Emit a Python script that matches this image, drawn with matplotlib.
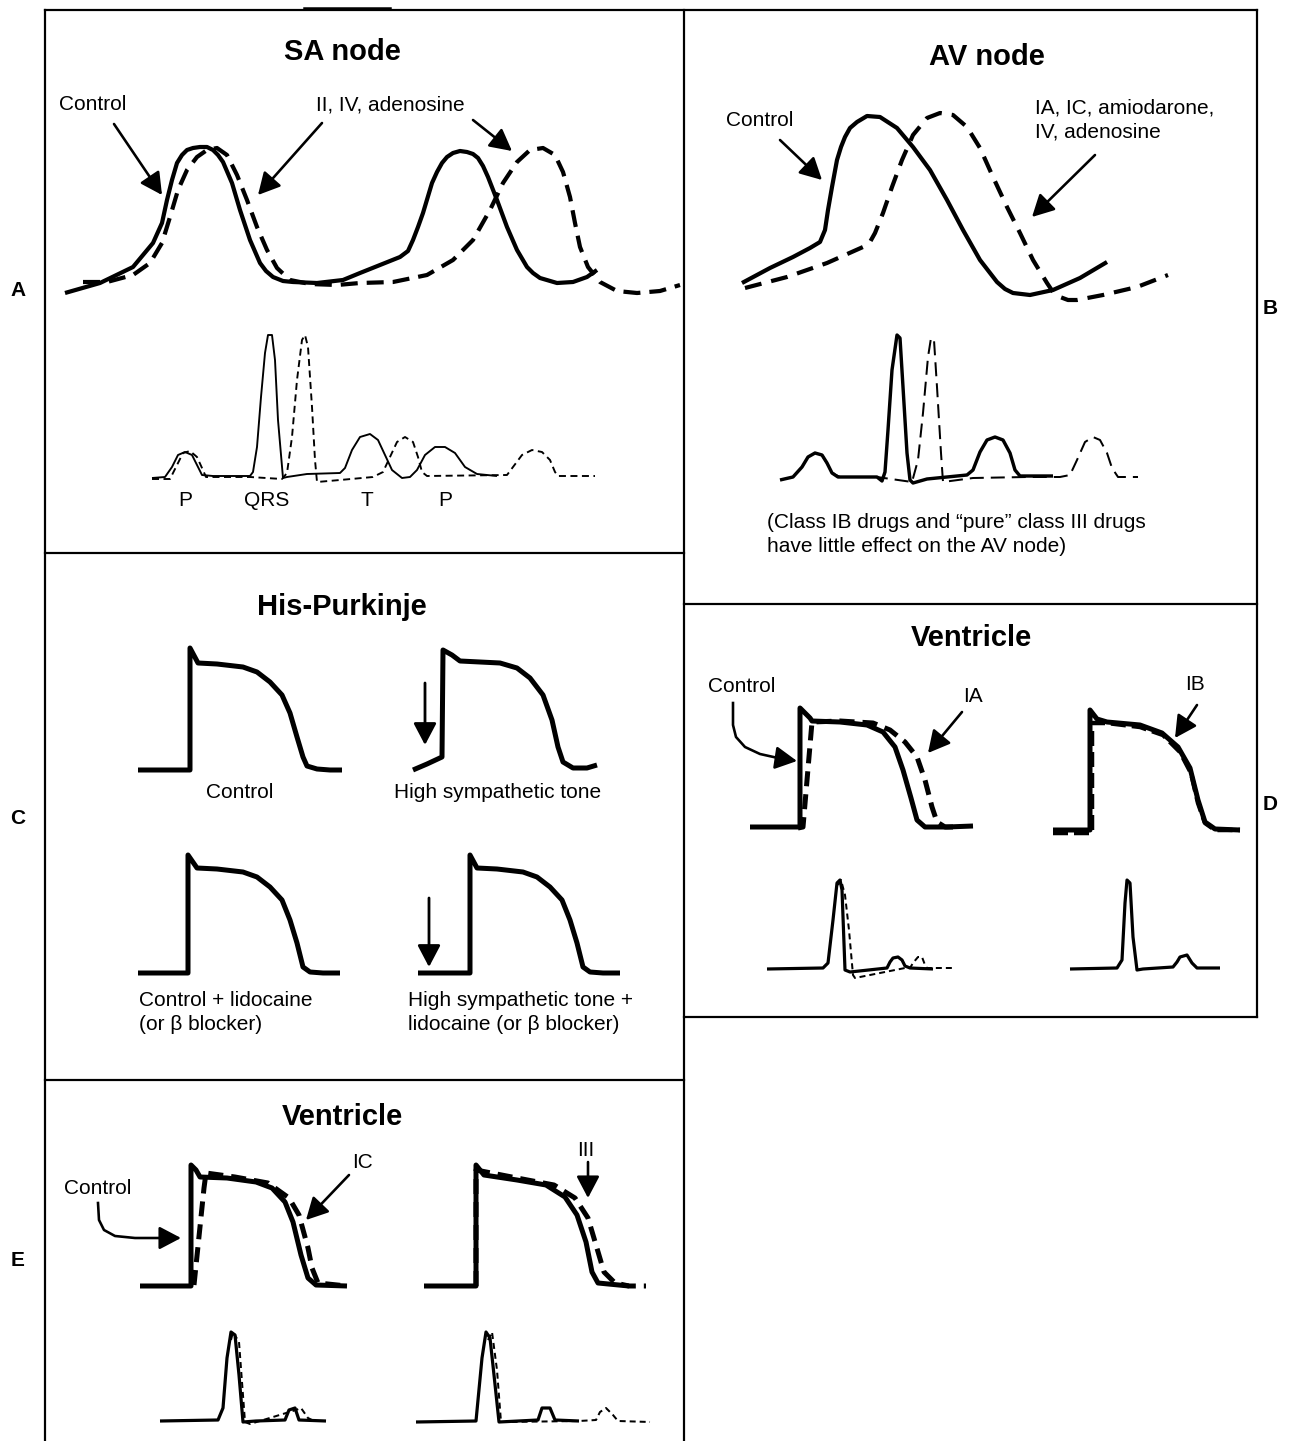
import matplotlib
matplotlib.use('Agg')
import matplotlib.pyplot as plt

plt.rcParams['font.family'] = ['Liberation Sans', 'DejaVu Sans']
plt.rcParams['lines.scale_dashes'] = False

# ---------------- data (traces, pixel units) ----------------
# SA node action potentials
sa_ctrl_x = [65, 100, 133, 153, 162, 167, 172, 177, 182, 187, 193, 200, 207, 213, 218, 223, 232, 240, 250, 260, 266,
             273, 283, 293, 317, 343, 360, 380, 400, 408, 413, 418, 423, 432, 437, 442, 447, 453, 460, 467, 473, 478,
             483, 488, 497, 507, 517, 527, 533, 540, 557, 573, 587, 597]
sa_ctrl_y = [293, 283, 267, 243, 223, 200, 180, 163, 155, 150, 148, 147, 147, 150, 155, 162, 183, 210, 240, 263, 271,
             277, 281, 282, 283, 280, 273, 265, 257, 251, 240, 227, 213, 183, 172, 163, 157, 153, 151, 152, 154, 158,
             166, 177, 200, 227, 250, 267, 273, 278, 283, 282, 277, 270]
sa_drug_x = [83, 107, 133, 150, 162, 170, 178, 187, 197, 207, 217, 227, 237, 247, 257, 267, 277, 290, 310, 337,
             360, 393, 427, 453, 473, 490, 503, 517, 530, 543, 555, 563, 570, 575, 580, 588, 600, 617, 637, 660, 680]
sa_drug_y = [282, 282, 275, 263, 243, 217, 190, 170, 157, 150, 148, 155, 175, 200, 227, 250, 268, 280, 284, 285,
             283, 282, 275, 260, 240, 210, 183, 162, 150, 148, 155, 172, 197, 223, 247, 267, 282, 291, 293, 291, 285]
# SA node ECG
sa_ecg_ctrl_x = [152, 165, 172, 178, 185, 192, 197, 202, 213, 250, 253, 257, 261, 265, 268, 272, 275, 278, 283,
                 287, 307, 340, 345, 352, 360, 370, 378, 385, 392, 402, 410, 417, 425, 435, 445, 455, 465, 477, 497]
sa_ecg_ctrl_y = [478, 477, 467, 455, 452, 455, 465, 475, 476, 476, 472, 447, 397, 353, 335, 335, 360, 420, 478,
                 477, 474, 473, 468, 450, 437, 434, 440, 455, 470, 478, 477, 470, 455, 447, 447, 453, 467, 474, 476]
sa_ecg_drug_x = [152, 170, 177, 183, 190, 197, 202, 206, 250, 282, 287, 292, 297, 302, 305, 308, 312, 315, 317,
                 340, 373, 383, 390, 397, 405, 413, 418, 422, 427, 507, 513, 522, 532, 542, 550, 555, 558, 595]
sa_ecg_drug_y = [479, 479, 465, 453, 451, 457, 468, 477, 477, 479, 473, 437, 380, 340, 335, 347, 407, 460, 482,
                 480, 477, 472, 457, 442, 437, 442, 457, 472, 476, 475, 467, 455, 450, 452, 460, 472, 476, 476]
sa_ecg_labels = ['P', 'QRS', 'T', 'P']
sa_ecg_label_x = [185, 267, 367, 445]

# AV node action potentials
av_ctrl_x = [742, 770, 793, 810, 820, 825, 828, 832, 837, 841, 845, 850, 857, 867, 880, 897, 913, 930, 947, 963,
             980, 997, 1005, 1013, 1030, 1053, 1080, 1107]
av_ctrl_y = [283, 268, 257, 248, 242, 230, 210, 187, 160, 147, 137, 128, 122, 116, 117, 128, 147, 170, 200, 230,
             260, 282, 289, 293, 295, 290, 278, 262]
av_drug_x = [745, 787, 827, 863, 870, 875, 883, 892, 902, 913, 927, 940, 953, 967, 980, 993, 1007, 1020, 1033, 1047,
             1053, 1060, 1068, 1077, 1103, 1137, 1168]
av_drug_y = [288, 277, 263, 247, 242, 233, 213, 187, 160, 135, 118, 113, 115, 127, 148, 177, 207, 233, 260, 283,
             292, 297, 300, 300, 295, 287, 275]
# AV node ECG
av_ecg_ctrl_x = [780, 793, 802, 808, 815, 822, 827, 832, 838, 877, 882, 885, 888, 892, 897, 900, 903, 907, 910,
                 913, 927, 967, 973, 980, 987, 995, 1003, 1010, 1015, 1020, 1053]
av_ecg_ctrl_y = [480, 477, 467, 457, 453, 455, 463, 473, 477, 477, 481, 472, 430, 370, 335, 338, 387, 453, 480,
                 483, 479, 475, 470, 452, 440, 437, 440, 453, 470, 476, 476]
av_ecg_drug_x = [822, 828, 834, 840, 877, 912, 918, 923, 928, 931, 934, 937, 941, 943, 973, 1027, 1060, 1070,
                 1077, 1085, 1093, 1100, 1107, 1112, 1118, 1138]
av_ecg_drug_y = [455, 465, 474, 477, 477, 482, 460, 413, 357, 338, 340, 387, 453, 482, 478, 477, 477, 475,
                 460, 442, 437, 440, 453, 468, 477, 477]

# His-Purkinje action potentials
hp_ctrl_x = [138, 190, 190, 198, 217, 243, 257, 270, 282, 290, 297, 303, 307, 317, 330, 342]
hp_ctrl_y = [770, 770, 648, 663, 664, 667, 672, 682, 695, 713, 737, 757, 766, 769, 770, 770]
hp_symp_x = [413, 427, 442, 443, 452, 460, 480, 500, 517, 530, 543, 552, 558, 563, 573, 587, 597]
hp_symp_y = [770, 764, 757, 650, 655, 661, 662, 663, 668, 678, 695, 720, 747, 762, 768, 768, 765]
hp_lido_x = [138, 188, 188, 197, 217, 243, 257, 270, 282, 290, 297, 303, 310, 323, 340]
hp_lido_y = [973, 973, 855, 868, 869, 872, 877, 887, 900, 920, 943, 967, 972, 973, 973]
hp_symp_lido_x = [418, 470, 470, 477, 497, 523, 537, 550, 562, 570, 577, 583, 590, 603, 620]
hp_symp_lido_y = [973, 973, 855, 868, 869, 872, 877, 887, 900, 920, 943, 967, 972, 973, 973]

# Ventricle (D): control vs IA, control vs IB
d_ctrl1_x = [750, 800, 800, 810, 812, 840, 867, 883, 895, 903, 911, 917, 925, 947, 973]
d_ctrl1_y = [827, 827, 708, 718, 721, 722, 725, 732, 747, 770, 798, 820, 827, 827, 826]
d_ia_x = [798, 803, 812, 840, 873, 890, 905, 917, 925, 932, 937, 945, 953]
d_ia_y = [828, 827, 722, 721, 723, 730, 742, 757, 780, 807, 822, 827, 827]
d_ctrl2_x = [1053, 1090, 1090, 1097, 1107, 1140, 1162, 1178, 1190, 1198, 1205, 1215, 1240]
d_ctrl2_y = [830, 830, 710, 719, 722, 725, 733, 747, 768, 800, 822, 829, 830]
d_ib_x = [1053, 1092, 1092, 1107, 1140, 1163, 1180, 1191, 1198, 1205, 1215, 1240]
d_ib_y = [833, 833, 723, 723, 727, 735, 752, 773, 803, 823, 830, 830]
d_ecg1_x = [767, 823, 828, 833, 837, 840, 842, 845, 850, 887, 890, 893, 898, 902, 905, 910, 933]
d_ecg1_y = [969, 968, 963, 920, 883, 880, 890, 970, 972, 968, 962, 958, 957, 960, 966, 968, 969]
d_ecg1d_x = [838, 841, 845, 849, 853, 855, 905, 910, 913, 918, 922, 925, 927, 953]
d_ecg1d_y = [885, 880, 895, 930, 975, 978, 968, 968, 963, 957, 957, 965, 968, 968]
d_ecg2_x = [1070, 1117, 1122, 1125, 1127, 1130, 1133, 1137, 1143, 1173, 1177, 1180, 1187, 1192, 1197, 1220]
d_ecg2_y = [969, 968, 960, 903, 880, 883, 937, 970, 969, 967, 962, 957, 955, 963, 968, 968]

# Ventricle (E): control vs IC, control vs III
e_ctrl1_x = [140, 191, 191, 196, 200, 227, 256, 272, 285, 293, 301, 308, 316, 347]
e_ctrl1_y = [1286, 1286, 1165, 1170, 1177, 1178, 1182, 1188, 1202, 1222, 1255, 1278, 1285, 1286]
e_ic_x = [194, 204, 206, 235, 268, 289, 299, 308, 312, 318, 347]
e_ic_y = [1285, 1188, 1173, 1177, 1183, 1198, 1215, 1248, 1268, 1283, 1286]
e_ctrl2_x = [424, 476, 476, 484, 517, 546, 565, 577, 586, 592, 598, 629]
e_ctrl2_y = [1286, 1286, 1165, 1175, 1180, 1185, 1197, 1215, 1242, 1272, 1283, 1286]
e_iii_x = [476, 476, 517, 554, 575, 588, 596, 604, 615, 629, 646]
e_iii_y = [1286, 1170, 1178, 1185, 1198, 1218, 1245, 1272, 1283, 1286, 1286]
e_ecg1_x = [160, 218, 223, 227, 231, 235, 239, 243, 256, 285, 289, 295, 299, 326]
e_ecg1_y = [1421, 1420, 1408, 1358, 1332, 1335, 1375, 1422, 1421, 1420, 1410, 1408, 1420, 1421]
e_ecg1d_x = [231, 233, 239, 245, 250, 296, 301, 308, 312]
e_ecg1d_y = [1340, 1332, 1342, 1422, 1424, 1410, 1408, 1418, 1420]
e_ecg2_x = [416, 476, 482, 486, 490, 494, 499, 538, 542, 550, 555, 579]
e_ecg2_y = [1422, 1421, 1358, 1332, 1338, 1375, 1422, 1420, 1408, 1408, 1420, 1421]
e_ecg2d_x = [488, 492, 497, 501, 506, 579, 596, 600, 606, 613, 618, 650]
e_ecg2d_y = [1340, 1332, 1370, 1422, 1422, 1421, 1420, 1412, 1408, 1415, 1421, 1422]

# ---------------- figure ----------------
W, H = 1297, 1441
fig = plt.figure(figsize=(W / 100, H / 100), dpi=100)
ax = fig.add_axes([0, 0, 1, 1])
ax.set_xlim(0, W)
ax.set_ylim(H, 0)
ax.axis('off')

K = 0.72  # points per pixel


def trace(xs, ys, lw_px, dash=None):
    kw = dict(color='black', lw=lw_px * K, solid_joinstyle='round', solid_capstyle='butt',
              dash_joinstyle='round', dash_capstyle='butt')
    if dash is not None:
        kw['linestyle'] = (0, (dash[0] * K, dash[1] * K))
    ax.plot(xs, ys, **kw)


def arrow(x0, y0, x1, y1, lw_px=2.6, hl=0.95, hw=0.5, ms=14):
    ax.annotate('', xy=(x1, y1), xytext=(x0, y0),
                arrowprops=dict(arrowstyle='-|>,head_length=%g,head_width=%g' % (hl, hw),
                                color='black', lw=lw_px * K, mutation_scale=ms,
                                shrinkA=0, shrinkB=0))


def txt(x, y, s, size=15, weight='normal', ha='center'):
    ax.text(x, y, s, fontsize=size, fontweight=weight, ha=ha, va='center', color='black')


# frame
frame = [((45, 10), (1257, 10)), ((45, 10), (45, 1441)), ((684, 10), (684, 1441)),
         ((1257, 10), (1257, 1017)), ((45, 553), (684, 553)), ((684, 604), (1257, 604)),
         ((684, 1017), (1257, 1017)), ((45, 1080), (684, 1080))]
for (a, b) in frame:
    ax.plot([a[0], b[0]], [a[1], b[1]], color='black', lw=2.2 * K, solid_capstyle='projecting')
ax.plot([305, 390], [9, 9], color='black', lw=3.5 * K)

# side labels
for lab, x, y in [('A', 18, 290), ('B', 1270, 308), ('C', 18, 818), ('D', 1270, 805), ('E', 18, 1260)]:
    txt(x, y, lab, size=15, weight='bold')

# titles
txt(342, 52, 'SA node', size=21, weight='bold')
txt(987, 57, 'AV node', size=21, weight='bold')
txt(342, 607, 'His-Purkinje', size=21, weight='bold')
txt(971, 638, 'Ventricle', size=21, weight='bold')
txt(342, 1117, 'Ventricle', size=21, weight='bold')

# ---- A: SA node
trace(sa_ctrl_x, sa_ctrl_y, 4.2)
trace(sa_drug_x, sa_drug_y, 4.2, dash=(17, 9))
trace(sa_ecg_ctrl_x, sa_ecg_ctrl_y, 1.9)
trace(sa_ecg_drug_x, sa_ecg_drug_y, 1.9, dash=(7, 4.5))
txt(93, 105, 'Control')
txt(390, 105, 'II, IV, adenosine')
arrow(114, 124, 162, 195)
arrow(322, 123, 258, 195)
arrow(473, 120, 512, 151)
for lab, x in zip(sa_ecg_labels, sa_ecg_label_x):
    txt(x, 501, lab)

# ---- B: AV node
trace(av_ctrl_x, av_ctrl_y, 4.2)
trace(av_drug_x, av_drug_y, 4.2, dash=(17, 10))
trace(av_ecg_ctrl_x, av_ecg_ctrl_y, 3.4)
trace(av_ecg_drug_x, av_ecg_drug_y, 2.0, dash=(14, 7))
txt(760, 121, 'Control')
txt(1035, 108, 'IA, IC, amiodarone,', ha='left')
txt(1035, 132, 'IV, adenosine', ha='left')
arrow(780, 140, 822, 180)
arrow(1095, 155, 1032, 217)
txt(767, 522, '(Class IB drugs and \u201cpure\u201d class III drugs', ha='left')
txt(767, 546, 'have little effect on the AV node)', ha='left')

# ---- C: His-Purkinje
trace(hp_ctrl_x, hp_ctrl_y, 5)
trace(hp_symp_x, hp_symp_y, 5)
trace(hp_lido_x, hp_lido_y, 5)
trace(hp_symp_lido_x, hp_symp_lido_y, 5)
arrow(425, 683, 425, 745, lw_px=2.8)
arrow(429, 898, 429, 967, lw_px=2.8)
txt(240, 792, 'Control')
txt(498, 793, 'High sympathetic tone')
txt(139, 1000, 'Control + lidocaine', ha='left')
txt(139, 1024, '(or \u03b2 blocker)', ha='left')
txt(408, 1000, 'High sympathetic tone +', ha='left')
txt(408, 1024, 'lidocaine (or \u03b2 blocker)', ha='left')

# ---- D: Ventricle IA / IB
trace(d_ctrl1_x, d_ctrl1_y, 5)
trace(d_ia_x, d_ia_y, 5, dash=(15, 8))
trace(d_ctrl2_x, d_ctrl2_y, 5)
trace(d_ib_x, d_ib_y, 4.5, dash=(15, 6))
trace(d_ecg1_x, d_ecg1_y, 3.2)
trace(d_ecg1d_x, d_ecg1d_y, 2.0, dash=(6, 4))
trace(d_ecg2_x, d_ecg2_y, 3.2)
txt(742, 686, 'Control')
txt(973, 697, 'IA')
txt(1195, 685, 'IB')
ax.plot([733, 733, 736, 745, 760, 778], [703, 725, 737, 747, 754, 758], color='black', lw=2.6 * K,
        solid_joinstyle='round')
arrow(777, 758, 797, 761)
arrow(962, 712, 928, 753)
arrow(1197, 705, 1175, 738)

# ---- E: Ventricle IC / III
trace(e_ctrl1_x, e_ctrl1_y, 5)
trace(e_ic_x, e_ic_y, 5, dash=(15, 8))
trace(e_ctrl2_x, e_ctrl2_y, 5)
trace(e_iii_x, e_iii_y, 5, dash=(15, 8))
trace(e_ecg1_x, e_ecg1_y, 3.2)
trace(e_ecg1d_x, e_ecg1d_y, 2.0, dash=(6, 4))
trace(e_ecg2_x, e_ecg2_y, 3.2)
trace(e_ecg2d_x, e_ecg2d_y, 2.0, dash=(6, 4))
txt(98, 1188, 'Control')
txt(362, 1162, 'IC')
txt(586, 1150, 'III')
ax.plot([98, 99, 104, 115, 135, 160], [1203, 1220, 1230, 1236, 1238, 1238], color='black', lw=2.6 * K,
        solid_joinstyle='round')
arrow(160, 1238, 181, 1238)
arrow(349, 1175, 306, 1220)
arrow(588, 1162, 588, 1198)

fig.savefig('out.png', dpi=100)
